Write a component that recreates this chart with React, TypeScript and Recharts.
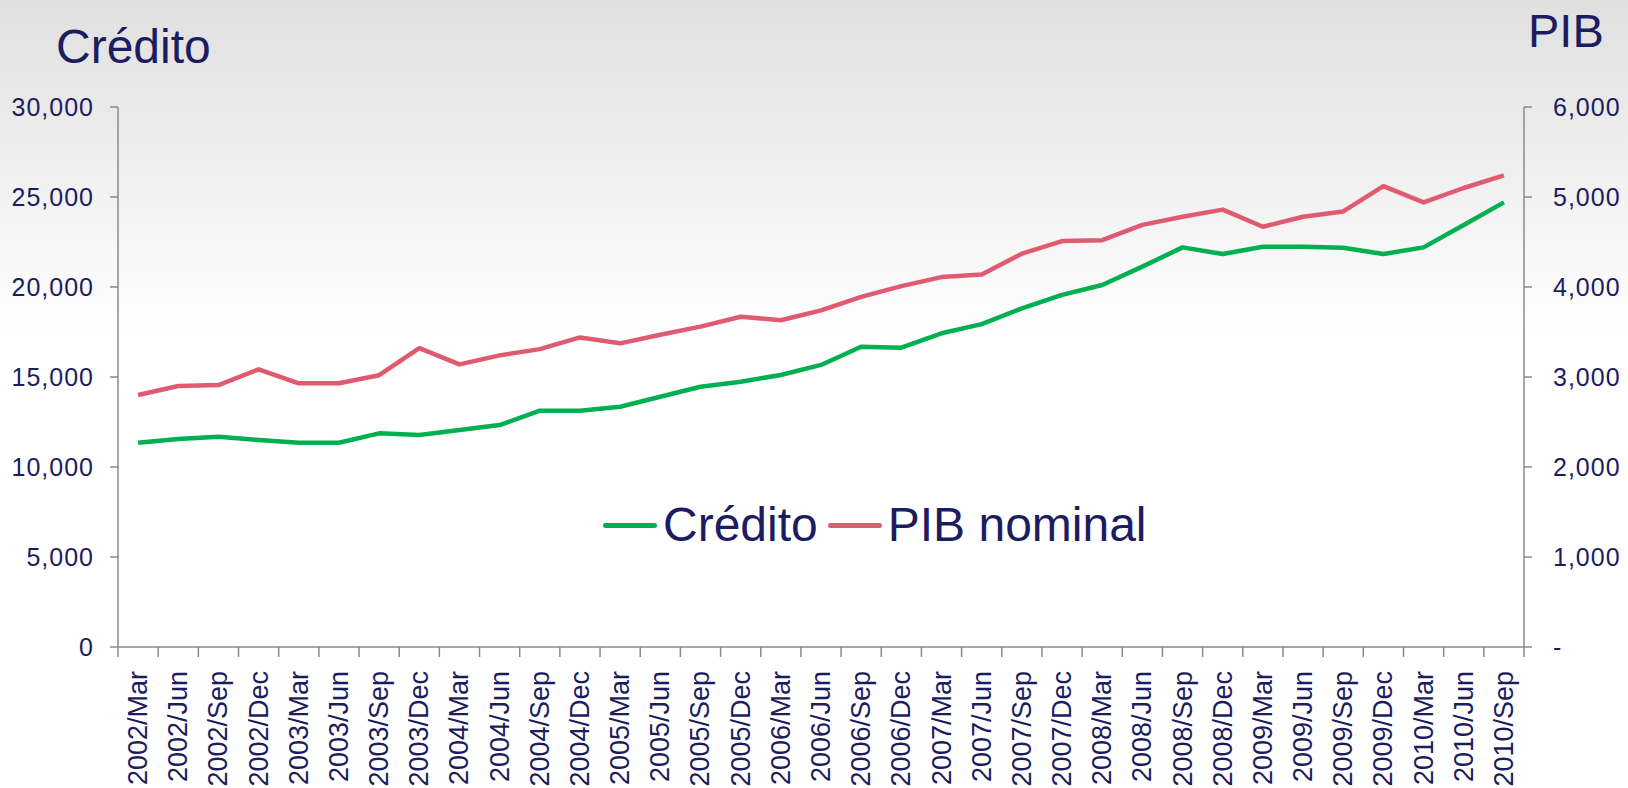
import React from 'react'
import { LineChart, Line, XAxis, YAxis, Legend } from 'recharts'

const categories = [
  '2002/Mar', '2002/Jun', '2002/Sep', '2002/Dec',
  '2003/Mar', '2003/Jun', '2003/Sep', '2003/Dec',
  '2004/Mar', '2004/Jun', '2004/Sep', '2004/Dec',
  '2005/Mar', '2005/Jun', '2005/Sep', '2005/Dec',
  '2006/Mar', '2006/Jun', '2006/Sep', '2006/Dec',
  '2007/Mar', '2007/Jun', '2007/Sep', '2007/Dec',
  '2008/Mar', '2008/Jun', '2008/Sep', '2008/Dec',
  '2009/Mar', '2009/Jun', '2009/Sep', '2009/Dec',
  '2010/Mar', '2010/Jun', '2010/Sep',
]

const credito = [
  11350, 11560, 11680, 11500, 11350, 11350, 11870, 11780, 12060, 12330, 13130, 13130,
  13350, 13900, 14460, 14740, 15110, 15670, 16680, 16630, 17430, 17940, 18810, 19560,
  20110, 21130, 22200, 21830, 22240, 22240, 22180, 21830, 22200, 23440, 24700,
]

const pibNominal = [
  2800, 2900, 2910, 3085, 2930, 2930, 3020, 3320, 3140, 3240, 3310, 3440,
  3374, 3470, 3560, 3670, 3630, 3740, 3890, 4010, 4110, 4140, 4370, 4510,
  4520, 4690, 4780, 4860, 4670, 4780, 4840, 5120, 4940, 5100, 5240,
]

const leftTicks = [0, 5000, 10000, 15000, 20000, 25000, 30000]
const rightTicks = [0, 1000, 2000, 3000, 4000, 5000, 6000]

const NAVY = '#1C1C60'
const AXIS = '#8A8A8A'
const FONT = '"Liberation Sans", Arial, sans-serif'

const W = 1628
const H = 788
const LEFT_W = 118
const RIGHT_W = 104
const BAND = (W - LEFT_W - RIGHT_W) / categories.length
const TICK = 10
const TICK_GAP = 14

const data = categories.map((c, i) => ({ periodo: c, credito: credito[i], pib: pibNominal[i] }))

const fmt = (v: number) => v.toLocaleString('en-US')

// Excel-style category axis: tick marks sit between the categories
const RotatedTick = ({ x, y, payload, index }: any) => {
  const y0 = y - TICK - TICK_GAP
  return (
    <g>
      <line x1={x - BAND / 2} x2={x - BAND / 2} y1={y0} y2={y0 + TICK} stroke={AXIS} strokeWidth={1.5} />
      {index === categories.length - 1 && (
        <line x1={x + BAND / 2} x2={x + BAND / 2} y1={y0} y2={y0 + TICK} stroke={AXIS} strokeWidth={1.5} />
      )}
      <text
        transform={`translate(${x},${y}) rotate(-90)`}
        textAnchor="end"
        dominantBaseline="central"
        fill={NAVY}
        fontSize={27}
        fontFamily={FONT}
      >
        {payload.value}
      </text>
    </g>
  )
}

const LegendContent = ({ payload }: any) => (
  <div style={{ display: 'flex', alignItems: 'center', fontFamily: FONT, fontSize: 48, color: NAVY, lineHeight: 1 }}>
    {(payload || []).map((p: any) => (
      <div key={p.value} style={{ display: 'flex', alignItems: 'center', marginRight: 10 }}>
        <span style={{ display: 'inline-block', width: 54, height: 5, borderRadius: 3, background: p.color, marginRight: 6 }} />
        <span>{p.value}</span>
      </div>
    ))}
  </div>
)

export default function App() {
  return (
    <div
      style={{
        position: 'absolute', left: 0, top: 0, width: W, height: H,
        background: 'linear-gradient(to bottom, #E0E0E0 0px, #FFFFFF 340px)',
        fontFamily: FONT,
      }}
    >
      <div style={{ position: 'absolute', left: 56, top: 23, fontSize: 48, color: NAVY, lineHeight: 1 }}>Crédito</div>
      <div style={{ position: 'absolute', left: 1528, top: 7, fontSize: 47, color: NAVY, lineHeight: 1 }}>PIB</div>
      <LineChart width={W} height={H} data={data} margin={{ top: 107, right: 0, bottom: 0, left: 0 }}>
        <XAxis
          dataKey="periodo"
          interval={0}
          height={141}
          padding={{ left: BAND / 2, right: BAND / 2 }}
          axisLine={{ stroke: AXIS, strokeWidth: 1.5 }}
          tickLine={false}
          tickSize={TICK}
          tickMargin={TICK_GAP}
          tick={<RotatedTick />}
        />
        <YAxis
          yAxisId="left"
          width={LEFT_W}
          domain={[0, 30000]}
          ticks={leftTicks}
          tickFormatter={fmt}
          axisLine={{ stroke: AXIS, strokeWidth: 1.5 }}
          tickLine={{ stroke: AXIS, strokeWidth: 1.5 }}
          tickSize={8}
          tickMargin={16}
          tick={{ fill: NAVY, fontSize: 25, fontFamily: FONT, letterSpacing: 1 }}
        />
        <YAxis
          yAxisId="right"
          orientation="right"
          width={RIGHT_W}
          domain={[0, 6000]}
          ticks={rightTicks}
          tickFormatter={(v: number) => (v === 0 ? '-' : fmt(v))}
          axisLine={{ stroke: AXIS, strokeWidth: 1.5 }}
          tickLine={{ stroke: AXIS, strokeWidth: 1.5 }}
          tickSize={8}
          tickMargin={21}
          tick={{ fill: NAVY, fontSize: 25, fontFamily: FONT, letterSpacing: 1 }}
        />
        <Legend
          layout="horizontal"
          verticalAlign="middle"
          align="center"
          content={<LegendContent />}
          wrapperStyle={{ left: 603, top: 501, width: 'auto' }}
        />
        <Line
          yAxisId="left"
          type="linear"
          dataKey="credito"
          name="Crédito"
          stroke="#00B050"
          strokeWidth={4.5}
          strokeLinejoin="round"
          dot={false}
          isAnimationActive={false}
        />
        <Line
          yAxisId="right"
          type="linear"
          dataKey="pib"
          name="PIB nominal"
          stroke="#E05A70"
          strokeWidth={4.5}
          strokeLinejoin="round"
          dot={false}
          isAnimationActive={false}
        />
      </LineChart>
    </div>
  )
}
